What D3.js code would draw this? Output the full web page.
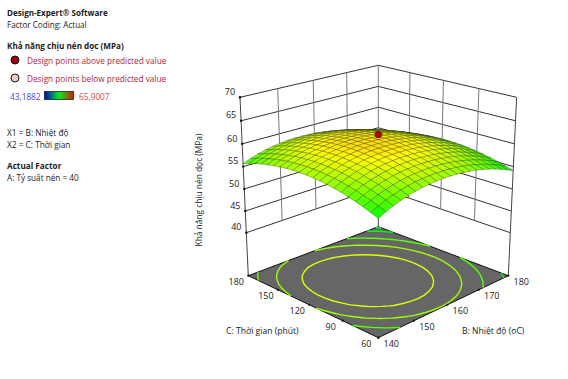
<!DOCTYPE html>
<html><head><meta charset="utf-8">
<script src="https://cdn.jsdelivr.net/npm/d3@7"></script>
<style>html,body{margin:0;padding:0;background:#fff}svg{display:block}text{font-family:"Open Sans","Noto Sans",sans-serif}</style>
</head><body><svg id="c" width="568" height="379"></svg>
<script>
const tempTicks = [140,150,160,170,180];
const timeTicks = [60,90,120,150,180];
const strengthTicks = [40,45,50,55,60,65,70];
const tempGrid = [140,142,144,146,148,150,152,154,156,158,160,162,164,166,168,170,172,174,176,178,180];
const timeGrid = [60,66,72,78,84,90,96,102,108,114,120,126,132,138,144,150,156,162,168,174,180];
// rows follow timeGrid, columns follow tempGrid
const strength = [
[54.56,55.32,55.97,56.51,56.95,57.29,57.57,57.74,57.85,57.90,57.88,57.79,57.64,57.43,57.15,56.80,56.39,55.91,55.37,54.77,54.10],
[55.18,55.94,56.59,57.12,57.55,57.89,58.16,58.33,58.44,58.48,58.45,58.36,58.21,57.99,57.70,57.35,56.93,56.45,55.91,55.30,54.62],
[55.75,56.50,57.14,57.66,58.09,58.43,58.70,58.86,58.96,59.00,58.97,58.87,58.71,58.48,58.19,57.84,57.42,56.93,56.38,55.77,55.09],
[56.25,57.00,57.63,58.15,58.58,58.91,59.17,59.33,59.43,59.46,59.42,59.32,59.15,58.92,58.63,58.27,57.84,57.35,56.80,56.18,55.49],
[56.69,57.44,58.07,58.58,59.00,59.33,59.59,59.74,59.83,59.85,59.81,59.71,59.54,59.30,59.00,58.64,58.21,57.71,57.15,56.52,55.83],
[57.08,57.82,58.44,58.95,59.37,59.69,59.94,60.09,60.17,60.19,60.15,60.04,59.86,59.62,59.32,58.95,58.51,58.01,57.44,56.81,56.12],
[57.40,58.14,58.76,59.26,59.67,59.98,60.23,60.38,60.46,60.47,60.42,60.31,60.13,59.88,59.57,59.19,58.75,58.25,57.68,57.04,56.34],
[57.67,58.40,59.01,59.51,59.91,60.22,60.47,60.61,60.68,60.69,60.64,60.52,60.33,60.08,59.76,59.38,58.94,58.43,57.85,57.21,56.51],
[57.87,58.59,59.20,59.70,60.10,60.40,60.64,60.78,60.85,60.85,60.79,60.66,60.47,60.22,59.90,59.51,59.06,58.55,57.97,57.32,56.61],
[58.01,58.73,59.34,59.83,60.22,60.52,60.76,60.89,60.95,60.95,60.88,60.75,60.56,60.30,59.97,59.58,59.13,58.61,58.02,57.37,56.65],
[58.10,58.81,59.41,59.90,60.29,60.58,60.81,60.93,60.99,60.99,60.92,60.78,60.58,60.32,59.99,59.59,59.13,58.60,58.01,57.36,56.64],
[58.12,58.83,59.43,59.91,60.29,60.58,60.80,60.92,60.98,60.97,60.89,60.75,60.55,60.28,59.94,59.54,59.07,58.54,57.95,57.29,56.56],
[58.09,58.79,59.38,59.85,60.23,60.52,60.74,60.85,60.90,60.89,60.81,60.66,60.45,60.17,59.83,59.43,58.96,58.42,57.82,57.16,56.43],
[57.99,58.69,59.27,59.74,60.12,60.40,60.61,60.72,60.77,60.75,60.66,60.51,60.29,60.01,59.67,59.26,58.78,58.24,57.64,56.97,56.23],
[57.83,58.53,59.11,59.57,59.94,60.22,60.43,60.53,60.57,60.54,60.45,60.30,60.08,59.79,59.44,59.03,58.55,58.00,57.39,56.71,55.97],
[57.62,58.31,58.88,59.34,59.71,59.98,60.18,60.28,60.31,60.28,60.19,60.03,59.80,59.51,59.16,58.74,58.25,57.70,57.08,56.40,55.66],
[57.34,58.03,58.60,59.05,59.41,59.67,59.87,59.97,60.00,59.96,59.86,59.70,59.47,59.17,58.81,58.38,57.89,57.34,56.72,56.03,55.28],
[57.01,57.69,58.25,58.70,59.05,59.31,59.51,59.60,59.62,59.58,59.48,59.31,59.07,58.77,58.40,57.97,57.48,56.92,56.29,55.60,54.85],
[56.61,57.28,57.84,58.29,58.64,58.89,59.08,59.17,59.19,59.14,59.03,58.85,58.61,58.31,57.94,57.50,57.00,56.44,55.81,55.11,54.35],
[56.15,56.82,57.38,57.82,58.16,58.41,58.60,58.68,58.69,58.64,58.52,58.34,58.10,57.79,57.41,56.97,56.47,55.90,55.26,54.56,53.79],
[55.64,56.30,56.85,57.29,57.63,57.87,58.05,58.12,58.13,58.08,57.96,57.77,57.52,57.21,56.83,56.38,55.87,55.29,54.65,53.95,53.18]
];
const contourLevels = [59.5,58,56.5,54.6,53.5];
const designPoint = {temp:160, time:120, strength:62};
const colorDomain = [43.1882,48.8663,54.5445,60.2226,65.9007];
const colorRange = ["#0000ff","#00ffff","#00ff00","#ffff00","#ff0000"];
const legendRange = ["#0000c8","#00f020","#d01808"];

const svg = d3.select("#c");
const uOf = d3.scaleLinear().domain([140,180]).range([0,1]);
const vOf = d3.scaleLinear().domain([60,180]).range([0,1]);
const heightOf = d3.scaleLinear().domain([29.87,69.87]).range([0,40]);
const color = d3.scaleLinear().domain(colorDomain).range(colorRange);

// perspective camera fitted to the reference's box
function project(u,v,z){
  const s = heightOf(z), p = u+v;
  const w = 1 + 0.13265*p - 0.001694*s;
  return [378.3 + 147.25*(u-v)/w, (337.7 - 25.43*p - 5.2*s)/w];
}
const P = (temp,time,z)=>project(uOf(temp),vOf(time),z);
const floorZ = heightOf.invert(0);
const line = d3.line();
const g = svg.append("g");

// floor
g.append("path").attr("d",line([P(140,60,floorZ),P(180,60,floorZ),P(180,180,floorZ),P(140,180,floorZ)])+"Z")
 .attr("fill","#666").attr("stroke","#111").attr("stroke-width",1);

// floor contours
const flat = strength.flat();
const contourGen = d3.contours().size([21,21]).thresholds(contourLevels).smooth(true);
const inside = p=>p[0]>=0.499&&p[0]<=20.501&&p[1]>=0.499&&p[1]<=20.501;
const ringLine = d3.line().defined(inside).x(p=>project((p[0]-.5)/20,(p[1]-.5)/20,floorZ)[0]).y(p=>project((p[0]-.5)/20,(p[1]-.5)/20,floorZ)[1]);
contourGen(flat).forEach(c=>{
  c.coordinates.forEach(poly=>poly.forEach(ring=>{
    g.append("path").attr("d",ringLine(ring)).attr("fill","none")
     .attr("stroke",color(c.value)).attr("stroke-width",1.4);
  }));
});

// walls
const W = g.append("g").attr("fill","none");
strengthTicks.forEach(z=>{
  W.append("path").attr("d",line([P(140,180,z),P(180,180,z),P(180,60,z)])).attr("stroke","#333").attr("stroke-width",1);
});
tempTicks.forEach(t=>{
  W.append("path").attr("d",line([P(t,180,40),P(t,180,70)])).attr("stroke",t===140?"#444":"#777").attr("stroke-width",1);
});
timeTicks.slice(0,-1).forEach(t=>{
  W.append("path").attr("d",line([P(180,t,40),P(180,t,70)])).attr("stroke",t===60?"#444":"#777").attr("stroke-width",1);
});
[[140,180],[180,180],[180,60]].forEach(([a,b])=>{
  W.append("path").attr("d",line([P(a,b,floorZ),P(a,b,40)])).attr("stroke","#444").attr("stroke-width",1);
});

// ticks dots
const dots = g.append("g").attr("fill","#111");
strengthTicks.forEach(z=>{const p=P(140,180,z);dots.append("circle").attr("cx",p[0]).attr("cy",p[1]).attr("r",1.2);});
tempTicks.forEach(t=>{const p=P(t,60,floorZ);dots.append("circle").attr("cx",p[0]).attr("cy",p[1]).attr("r",1.1);});
timeTicks.forEach(t=>{const p=P(140,t,floorZ);dots.append("circle").attr("cx",p[0]).attr("cy",p[1]).attr("r",1.1);});

// surface, painted far to near
const cells=[];
d3.range(20).forEach(j=>d3.range(20).forEach(i=>cells.push([i,j])));
cells.sort((a,b)=>(b[0]+b[1])-(a[0]+a[1]));
g.append("g").selectAll("path").data(cells).join("path")
 .attr("d",([i,j])=>line([
   P(tempGrid[i],timeGrid[j],strength[j][i]),
   P(tempGrid[i+1],timeGrid[j],strength[j][i+1]),
   P(tempGrid[i+1],timeGrid[j+1],strength[j+1][i+1]),
   P(tempGrid[i],timeGrid[j+1],strength[j+1][i])])+"Z")
 .attr("fill",([i,j])=>color((strength[j][i]+strength[j][i+1]+strength[j+1][i]+strength[j+1][i+1])/4))
 .attr("stroke","#2a2a10").attr("stroke-width",.32).attr("stroke-linejoin","round");

// design point
const dp=P(designPoint.temp,designPoint.time,designPoint.strength);
g.append("circle").attr("cx",dp[0]).attr("cy",dp[1]).attr("r",3.2).attr("fill","#b00010").attr("stroke","#500").attr("stroke-width",.7);

// tick labels
const T=(x,y,s,o={})=>svg.append("text").attr("x",x).attr("y",y).attr("font-size",o.size||8.6).attr("font-weight",o.bold?700:400)
  .attr("fill",o.fill||"#222").attr("text-anchor",o.anchor||"start").attr("dominant-baseline","central").text(s);
strengthTicks.forEach(z=>{const p=P(140,180,z);T(p[0]-10,p[1]-5.8,z,{anchor:"middle",size:9});});
tempTicks.forEach(t=>{const p=P(t,60,floorZ);T(p[0]+13,p[1]+6,t,{anchor:"middle",size:9});});
timeTicks.forEach(t=>{const p=P(140,t,floorZ);T(p[0]-12,p[1]+6,t,{anchor:"middle",size:9});});
T(226,331,"C: Thời gian (phút)");
T(462,331,"B: Nhiệt độ (oC)");
svg.append("text").attr("transform","translate(198,190) rotate(-90)").attr("text-anchor","middle").attr("dominant-baseline","central")
  .attr("font-size",8.4).attr("fill","#222").text("Khả năng chịu nén dọc (MPa)");

// left legend text
T(7,12.5,"Design-Expert® Software",{bold:true,size:8.05});
T(7,24,"Factor Coding: Actual",{size:8.1});
T(7,45.5,"Khả năng chịu nén dọc (MPa)",{bold:true,size:8.15});
T(27,60,"Design points above predicted value",{fill:"#b3263c",size:8.25});
T(27,78,"Design points below predicted value",{fill:"#b3263c",size:8.25});
T(10,96,"43,1882",{fill:"#4a4ae0",size:8.3});
T(79,96,"65,9007",{fill:"#e04848",size:8.3});
T(7,132.5,"X1 = B: Nhiệt độ",{size:8.3});
T(7,144,"X2 = C: Thời gian",{size:8.3});
T(7,165.5,"Actual Factor",{bold:true,size:8.2});
T(7,177,"A: Tỷ suất nén = 40",{size:8.2});
svg.append("circle").attr("cx",15).attr("cy",60).attr("r",4).attr("fill","#a00010").attr("stroke","#111").attr("stroke-width",1);
svg.append("circle").attr("cx",15).attr("cy",78).attr("r",4).attr("fill","#fbc8c8").attr("stroke","#111").attr("stroke-width",1);
const grad=svg.append("defs").append("linearGradient").attr("id","lg");
legendRange.forEach((c,i)=>grad.append("stop").attr("offset",i/(legendRange.length-1)).attr("stop-color",c));
svg.append("rect").attr("x",44.5).attr("y",91.5).attr("width",29).attr("height",8).attr("fill","url(#lg)").attr("stroke","#222").attr("stroke-width",.8);
</script></body></html>
